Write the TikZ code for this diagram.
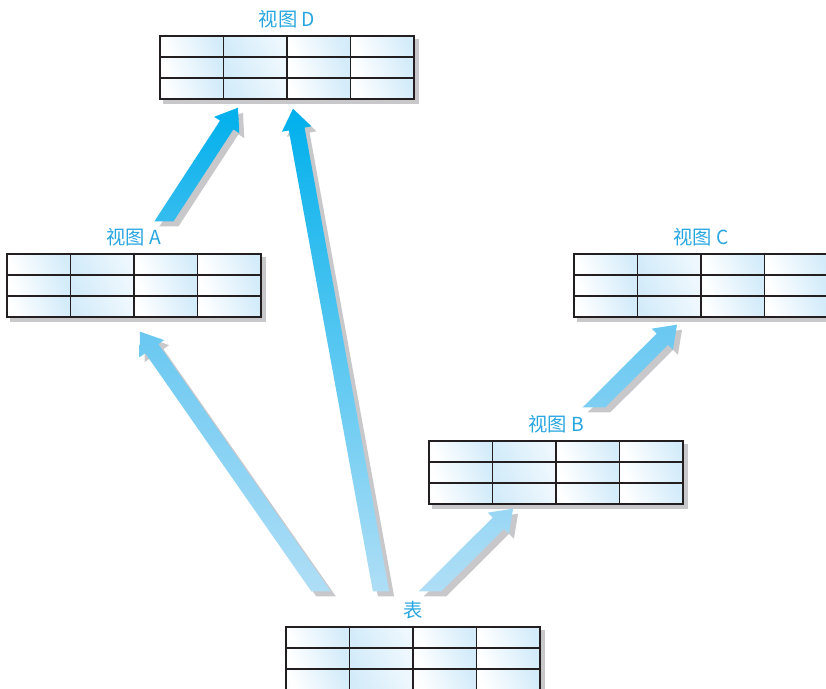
\documentclass[tikz,border=0pt]{standalone}
\usepackage{fontspec}
\newfontfamily\cjk{Noto Sans CJK SC}
\usetikzlibrary{calc,positioning,backgrounds}

\definecolor{lblblue}{RGB}{40,166,224}
\definecolor{cellblue}{RGB}{212,236,250}
\definecolor{tblline}{RGB}{35,31,32}
\definecolor{shadowgray}{RGB}{200,200,202}
\definecolor{arrLight}{RGB}{175,222,246}
\definecolor{arrMid}{RGB}{105,200,241}
\definecolor{arrDark}{RGB}{0,176,236}

% block arrow from #1 (tail, cut level) to #2 (tip)
\newcommand{\blockpath}[2]{(TL) -- ($(H)!0.24cm!90:(#2)$)
  -- ($(H)!0.45cm!90:(#2)$) -- (#2) -- ($(H)!0.45cm!-90:(#2)$)
  -- ($(H)!0.24cm!-90:(#2)$) -- (TR) -- cycle}

\begin{document}
\begin{tikzpicture}[
  x=0.03cm, y=0.03cm,
  tbl/.style={draw=tblline, line width=1.2pt, fill=white,
    minimum width=7.62cm, minimum height=1.89cm, inner sep=0pt,
    path picture={
      \coordinate (nw) at (path picture bounding box.north west);
      \foreach \c/\lc/\rc in {0/white/cellblue, 1/cellblue/white!60!cellblue, 2/white/cellblue, 3/white/cellblue}
        \foreach \r in {0,1,2}
          \shade[left color=\lc, right color=\rc, shading angle=115]
            ($(nw)+(\c*1.905cm,-\r*0.63cm)$) rectangle +(1.905cm,-0.63cm);
      \foreach \c in {1,2,3}
        \draw[tblline, line width=1.2pt] ($(nw)+(\c*1.905cm,0)$) -- +(0,-1.89cm);
      \foreach \r in {1,2}
        \draw[tblline, line width=1.2pt] ($(nw)+(0,-\r*0.63cm)$) -- +(7.62cm,0);
    }},
  lbl/.style={font=\cjk\fontsize{16.5}{19}\selectfont, text=lblblue, inner sep=0pt}
]
  \useasboundingbox (0,0) rectangle (826,689);
  \clip (0,0) rectangle (826,689);

  % tables
  \node[tbl] (tabD) at (287,621.5) {};
  \node[tbl] (tabA) at (134,403.5) {};
  \node[tbl] (tabC) at (701,403.5) {};
  \node[tbl] (tabB) at (556,216.5) {};
  \node[tbl] (tab)  at (413,30.5)  {};

  \begin{scope}[on background layer]
    \foreach \t in {tabD,tabA,tabC,tabB,tab}
      \fill[shadowgray] ($(\t.south west)+(4,-4)$) rectangle ($(\t.north east)+(4,-4)$);
  \end{scope}

  \node[lbl, above=0.2cm of tabD] (labD) {视图 D};
  \node[lbl, above=0.2cm of tabA] (labA) {视图 A};
  \node[lbl, above=0.2cm of tabC] (labC) {视图 C};
  \node[lbl, above=0.2cm of tabB] (labB) {视图 B};
  \node[lbl, above=0.2cm of tab]  (labT) {表};

  % arrow ends
  \coordinate (t1) at ($(tab.north)+(-92,35)$);
  \coordinate (t2) at ($(tab.north)+(-32,35)$);
  \coordinate (t3) at ($(tab.north)+(17,35)$);
  \coordinate (t4) at ($(tabB.north)+(38,33)$);
  \coordinate (t5) at ($(tabA.north)+(30,32)$);
  \coordinate (h1) at ($(tabA.south)+(6,-14)$);
  \coordinate (h2) at ($(tabD.south)+(6,-9)$);
  \coordinate (h3) at ($(tabB.south)+(-43,-4)$);
  \coordinate (h4) at ($(tabC.south)+(-24,-7)$);
  \coordinate (h5) at ($(tabD.south)+(-49,-8)$);

  \foreach \p/\q/\cb/\ct in {t1/h1/arrLight/arrMid, t2/h2/arrLight/arrDark,
      t3/h3/arrLight/arrMid!32!arrLight, t4/h4/arrMid!71!arrLight/arrMid,
      t5/h5/arrDark!49!arrMid/arrDark} {
    \coordinate (H) at ($(\q)!0.62cm!(\p)$);
    \coordinate (L1) at ($(\p)!0.24cm!90:(\q)$);
    \coordinate (L2) at ($(H)!0.24cm!90:(\q)$);
    \coordinate (R1) at ($(\p)!0.24cm!-90:(\q)$);
    \coordinate (R2) at ($(H)!0.24cm!-90:(\q)$);
    \coordinate (cutL) at ($(\p)+(-60,0)$);
    \coordinate (cutR) at ($(\p)+(60,0)$);
    \coordinate (TL) at (intersection of L1--L2 and cutL--cutR);
    \coordinate (TR) at (intersection of R1--R2 and cutL--cutR);
    \fill[shadowgray, transform canvas={shift={(0.15cm,-0.15cm)}}] \blockpath{\p}{\q};
    \shade[bottom color=\cb, top color=\ct] \blockpath{\p}{\q};
  }
\end{tikzpicture}
\end{document}
